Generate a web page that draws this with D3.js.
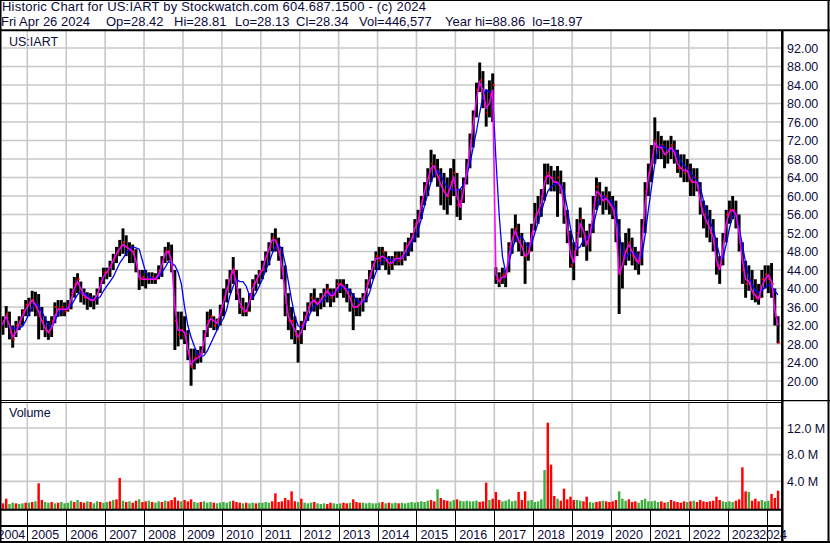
<!DOCTYPE html>
<html><head><meta charset="utf-8">
<script src="https://cdn.jsdelivr.net/npm/d3@7"></script>
<style>
body{margin:0;background:#fff}
svg{display:block}
text{font-family:Arial,"Liberation Sans",sans-serif;fill:#0b0b3b;white-space:pre}
</style>
</head><body>
<svg id="c" width="830" height="543"></svg>
<script>
// ---------- DATA (monthly, Apr 2004 .. Apr 2024) ----------
const startYear = 2004, startMonth = 4;
const high = [
 33.5,34,36.2,35,32,33,34,35.5,37.5,
 38,39.5,39.3,38.8,36,34,33,34,37,37.5,37.5,37,
 37.5,40,42.5,43.3,41.5,40,39.2,39,38.5,40,42.5,44.5,
 44.5,46,47.5,49,50.5,53,51.5,50,49.5,48.5,44,44,
 44,43.5,43.5,43.3,45,47,49,50,49.5,44,35,35,
 34,31,27,27,26.7,27.5,31,35,35.5,34,33.5,36.5,
 40,42,44,46.8,44,40,38,37,39,42,43,44,
 46,48,50,52,53,51,49,45,39,36,34,31,
 33,35,37,39,40,38,39,40,41,40,40,42,
 42,42,41,40,39,38,38,39,42,44,46,48,
 49,49,48,47,47,48,48,48,50,51,52,55,
 57,60,63,66,70,69,68,66,65,64,66,68,
 65,61.5,64,68,73.5,78.5,84.5,88.86,87,83,85,86.5,
 44.6,43.5,44.5,44,50,53,56,54,52,50,50,54,
 58.5,60,61.5,67,67,66.5,65.5,66.5,65.5,63,57,52.5,
 50,55,57.5,55,52.5,54,60,64,63,61,62,61,
 60,59,55,50,52,53,51,49,48,55,63,67,
 71,77,74,73,72,72,73,72,70,69,69,68,
 67,66,66,63,59,58,57,55,51,47,52,57,
 59,60,59,56,50,46,45,44,42,41,44,45,
 45,45.5,40,34];
const low = [
 29.5,30,31.5,29,27.2,29.5,31,32,34,
 34,35,34,29,31,29.5,28.9,29.5,32.5,33.9,34,34,
 35,35.5,38,39,37,36.5,35.4,36,35.5,36.5,39,41,
 42,42.5,44,45.5,47,47.5,47,45.5,45.5,43.5,39.7,40.5,
 40,41,41,41,42,42.5,45.5,46,43.5,26.7,27.5,29,
 28,24.5,18.97,22.5,23.8,24,26,29.5,31.5,31,31,32,
 34,37,39,41,37.5,34.5,34,34,35,37.5,39.5,41,
 42,43.5,45,48,48,46,42,34,31,29,28,24,
 28,31,33,35,35,34,35.5,36,37,36,37,38,
 39,38,37,35,31,34,34,35,37,40,42,44,
 44,45,44,43,44,45,45,45,46,47,48,50,
 51,55,58,60,63,64,62,58,57,56,58,60,
 55.5,54.8,58.5,62.5,66,70.5,77,82.5,79,75,77,76,
 41,40.3,41,40.3,43.5,47.5,50,48,47,41,46,48,
 52.5,54,55.5,59,62.5,61,61,55.5,60.5,54,49.8,44.5,
 41.8,47,51,49,46,48,52,57,58,56,57,56,
 55,50,34.5,40,45,46,45,44,43,45,52,60,
 63,67,68,68,66,67,68,67,65,64,63,63,
 60,60,61,56,53,51,50,48,43,41,45,50,
 54,55,53,48,41,38,39.5,37.5,37,36.5,38,40,
 39,38,32,28.13];
const close = [
 31.5,33,34.5,30.5,29,32,33,35,36.5,
 37,37.5,36,34,33,31,30.5,33,36,35.5,36,35,
 36,39,41,42,39,38,38,37.5,37.5,39,41.5,43.5,
 43.5,45,46.5,48,49,50,49,48.5,48,45,42,42.5,
 42,42,42.5,42,44,46,48,48,45,33,30,31,
 30,26,23,25,25.5,26,30,33,34,32,33,35.5,
 38,40,43,44,39,36,35,35,38,41,42,43.5,
 44,47,49,51,50,48,44,37,33,33,30,29,
 32,34,36,38,37,37,38,39,40,38,39,41,
 41,40,39,38,36,36,37,38,41,43,45,47,
 46,48,46,45,46,47,46,47,49,50,51,54,
 55,59,62,64,67,66,64,62,61,60,63,65,
 58,59,63,66,72,77,83,85,81,78,82,84,
 42,41.5,43,43.5,49,51,53,50,49,47,48,52,
 56,57,60,64,65,64,63,64,62,56,52,45,
 48,52,55,51,50,53,58,62,60,59,60,58,
 57,52,44,47,48,50,47,46,46,53,61,65,
 67,72,70,71,69,70,71,69,66,66,65,66,
 63,64,62,58,56,54,52,50,45,45,50,56,
 57,57,56,50,44,41,42,39,38,38,42,43,
 42,41,34,28.34];
const maFast = [
 31.5,32.5,34,32,29.5,30.5,32.5,34,35.5,
 36.5,37.5,36.5,35,33,31.5,30.5,31.5,34,35.5,35.5,35.5,
 35.5,37.5,40,41.5,40,38.5,38,37.5,37.5,38.5,40.5,42.5,
 43.5,44.5,46,47.5,48.5,49.5,49,48.5,48,46,42.5,42,
 42,42,42,42,43,45,47.5,48,46,36,31,31,
 30.5,27,23.5,24.5,25,25.5,28.5,32,33.5,33,32.5,34.5,
 37,39.5,42,44,41,37,35.5,35,37,40,41.5,43,
 44,46.5,48.5,50.5,50.5,48.5,45,39,34,32.5,31,29.5,
 30.5,33,35,37,37.5,36.5,37.5,38.5,39.5,38.5,38.5,40,
 41,40.5,39.5,38,36,36,36.5,37.5,39.5,42,44.5,46.5,
 46.5,47,46.5,45.5,45.5,46.5,46.5,46.5,48,49.5,50.5,53,
 54.5,58,61,63.5,66,66.5,64.5,62.5,61,60,62,64,
 60,57.5,61,65,70,75.5,81,84.5,83,79,80,83,
 43,41.5,42.5,42.5,47,50.5,52.5,50.5,49,47,47.5,51,
 55,56.5,58.5,63,64.5,64,63,63,62,58,53,47.5,
 45.5,50,54,52.5,49.5,51.5,56,61,60.5,59,59.5,58.5,
 57.5,54,43,45,48,49.5,48,46.5,45.5,50,58,64,
 67,71.5,70.5,70.5,69,69.5,70.5,69.5,67,66,65.5,65.5,
 63.5,63,63,59,56,54.5,53,51,46,44,48.5,54,
 56.5,57,56,52,46,42,41.5,39.5,38.5,37.8,40.5,42,
 42.9,41.5,35.4,32];
const maSlow = [
 null,null,null,31.7,31.5,31.3,31.5,31.8,33,
 34.5,36,36.8,36.3,35,33.5,32,31.5,33,34.5,35.2,35.5,
 35.8,36.3,37.5,38.7,39.2,39,38.5,38,37.5,37.8,38.2,39.5,
 40.5,41.5,42.5,44,45.5,46.5,47.6,48.5,49,48.8,48.5,46,
 43.5,42.5,42.2,42.2,42.5,43.5,44.5,45.8,45.5,45,43.5,41,
 36,32,29.5,27.5,26,25.3,25.5,26.5,28,29.5,31,32.5,
 33.5,35.5,38.5,40.5,42,41.5,41.5,40.5,38.5,38,39,40.5,
 42,44,45.5,47.5,49,49.5,48.5,45.5,41.5,37.5,34,32,
 31.5,32,33.5,35,36.2,36.8,37,37.5,38.5,39,39,39.5,
 40,40.5,40,39.5,38.5,37.5,37,37,37.5,39,41.5,43.5,
 45,46,46.5,46.5,46,46,46.5,46.5,47,48,49.5,51,
 52.5,55,58,60.5,63,65,65.5,64.5,63,62,61.5,61.2,
 61.2,61.5,62.5,64.5,67,70.5,74,78,81.5,83,82.5,82,
 68,56,47,43.5,45.5,48.5,50.5,51,51.2,50,49,49.5,
 52,54.2,56.5,59,61,62,62.5,62.8,62.5,61,57.5,53,
 50,48.5,49,50.5,51,51.5,53.5,56.5,59,60,59.5,59,
 58.5,57,52,47.5,46.5,47.5,48,47.5,46.5,47,51.5,57,
 62,67,70,71,70.5,70,70,70,69,67.5,66.5,66,
 65,64,63.5,62,59,56.5,54.5,53,50,47,46.5,49.5,
 53,55.5,56.5,53,49.5,45.5,42.5,41,39.5,39.2,39.5,40.2,
 40.8,40.5,39.5,38.6];
const volume = [ // millions of shares
 0.8,0.7,1.4,0.6,0.8,0.7,0.6,0.7,0.8,
 0.8,0.9,1.0,3.7,1.2,0.9,0.8,0.9,0.7,0.8,0.9,0.7,
 0.8,1.1,0.9,1.2,0.9,0.8,1.0,0.9,0.7,1.0,0.9,0.8,
 0.9,1.0,1.2,1.3,4.5,1.1,0.9,1.0,0.8,1.1,1.3,0.9,
 1.0,1.1,0.9,0.8,1.0,0.9,1.1,1.0,1.2,1.6,1.1,1.0,
 1.2,1.0,1.3,0.9,0.8,0.9,1.0,0.8,0.9,0.8,0.7,0.8,
 0.9,0.8,1.0,1.1,0.9,0.8,0.7,0.8,0.7,0.8,0.7,0.8,
 0.8,0.9,0.8,1.0,2.2,0.9,1.0,1.5,1.2,2.5,1.0,0.9,
 1.4,0.8,0.7,0.8,0.9,0.7,0.6,0.7,0.6,0.8,0.7,0.6,
 0.7,0.8,0.7,0.8,1.3,0.9,0.8,0.8,0.7,0.8,0.7,0.7,
 0.8,0.9,0.7,0.8,0.7,0.8,0.7,0.8,0.7,0.8,0.9,0.8,
 0.9,1.0,0.9,1.1,1.2,1.0,2.8,1.5,1.2,1.1,1.0,1.2,
 1.3,1.1,1.0,1.1,1.0,1.0,1.1,0.9,1.0,3.8,1.2,1.4,
 2.4,1.2,1.0,1.1,1.3,1.0,1.1,2.4,1.2,2.5,1.1,1.2,
 0.9,1.0,1.3,5.7,12.8,6.5,1.8,1.4,1.1,2.9,1.3,1.7,
 1.2,1.2,1.1,1.0,1.7,0.9,0.8,0.9,1.0,1.1,1.0,0.9,
 1.0,1.2,2.5,1.4,1.1,1.3,0.9,1.0,0.8,1.2,1.4,1.0,
 1.0,1.1,0.9,1.0,0.8,0.9,1.2,1.0,0.9,0.8,1.0,0.9,
 1.0,1.1,0.9,1.2,1.0,0.9,1.0,1.1,1.7,1.2,1.0,0.9,
 1.0,0.9,1.1,1.3,6.1,2.5,2.4,1.1,1.4,1.0,1.2,1.0,
 1.1,2.1,1.5,2.6];
const volSide = ( // r = down volume, g = up volume
 "grrggrggr"+"grgrrggrgrgg"+"ggrgrrgrggrg"+"grgrrgrgrrgr"+"rgrggrgrrrrg"+
 "rrrggrgggrgg"+"gggrrrgrggrg"+"gggrrrrrrrrg"+"rgggrgggrrgg"+"grrgrrrggggg"+
 "grgrggrggggg"+"ggggrrgrrrgg"+"rggggggrrrgr"+"rrgggggrrrgg"+"ggggrrrgrrrr"+
 "rggrrggrrgrr"+"rrgggrrrgggg"+"gggrrgrrrrrg"+"rgrrrrrrrrgg"+"ggrrrrgrrrgg"+"grrr");
const priceTicks = [20,24,28,32,36,40,44,48,52,56,60,64,68,72,76,80,84,88,92];
const volTicks = [4,8,12];
const yearLabels = [2004,2005,2006,2007,2008,2009,2010,2011,2012,2013,2014,2015,2016,2017,2018,2019,2020,2021,2022,2023,2024];
const header1 = "Historic Chart for US:IART by Stockwatch.com 604.687.1500 - (c) 2024";
const header2 = ["Fri Apr 26 2024","Op=28.42","Hi=28.81","Lo=28.13","Cl=28.34","Vol=446,577","Year hi=88.86  lo=18.97"];
const symbol = "US:IART";

// ---------- LAYOUT ----------
const header2X = [1,106,174,235,296,359,445];
const svg = d3.select("#c");
const PX0 = 1.5, PX1 = 781, PTOP = 31, PBOT = 400, VTOP = 403, VBOT = 509;
const x = d3.scaleLinear().domain([2005, 2024]).range([27.3, 766.7]);
const yP = d3.scaleLinear().domain([20, 92]).range([381, 48]);
const yV = d3.scaleLinear().domain([0, 12]).range([508, 428]);
const monthT = i => startYear + (startMonth - 1 + i) / 12;
const monthW = (x(2006) - x(2005)) / 12;
const N = high.length;
const idx = d3.range(N);
const grid = "#c8c8c8";
const FONT = "Arial,'Liberation Sans',sans-serif";

svg.append("rect").attr("width", 830).attr("height", 543).attr("fill", "#fff");

const defs = svg.append("defs");
defs.append("clipPath").attr("id", "cp").append("rect")
  .attr("x", PX0).attr("y", PTOP).attr("width", PX1 - PX0).attr("height", PBOT - PTOP);
defs.append("clipPath").attr("id", "cv").append("rect")
  .attr("x", PX0).attr("y", VTOP).attr("width", PX1 - PX0).attr("height", VBOT - VTOP);

// gridlines
const gYears = yearLabels.filter(y => x(y) > PX0 && x(y) < PX1);
const g = svg.append("g").attr("stroke", grid).attr("stroke-width", 1.6);
g.selectAll(".hp").data(priceTicks).join("line")
  .attr("x1", PX0).attr("x2", PX1).attr("y1", d => yP(d)).attr("y2", d => yP(d));
g.selectAll(".vp").data(gYears).join("line")
  .attr("x1", d => x(d)).attr("x2", d => x(d)).attr("y1", PTOP).attr("y2", PBOT);
g.selectAll(".hv").data(volTicks).join("line")
  .attr("x1", PX0).attr("x2", PX1).attr("y1", d => yV(d)).attr("y2", d => yV(d));
g.selectAll(".vv").data(gYears).join("line")
  .attr("x1", d => x(d)).attr("x2", d => x(d)).attr("y1", VTOP).attr("y2", VBOT);

// price bars
const pg = svg.append("g").attr("clip-path", "url(#cp)");
pg.selectAll(".bar").data(idx).join("rect")
  .attr("x", i => x(monthT(i)) + 0.15).attr("width", monthW - 0.3)
  .attr("y", i => yP(high[i])).attr("height", i => Math.max(1, yP(low[i]) - yP(high[i])))
  .attr("fill", "#000");
pg.selectAll(".cl").data(idx).join("rect")
  .attr("x", i => x(monthT(i)) + monthW - 1.6).attr("width", 2)
  .attr("y", i => yP(close[i]) - 1).attr("height", 2)
  .attr("fill", "#ff0000");
const lineOf = arr => d3.line()
  .defined(i => arr[i] != null)
  .x(i => x(monthT(i) + 1 / 24)).y(i => yP(arr[i]));
pg.append("path").datum(idx).attr("d", lineOf(maSlow))
  .attr("fill", "none").attr("stroke", "#0000ff").attr("stroke-width", 1.3);
pg.append("path").datum(idx).attr("d", lineOf(maFast))
  .attr("fill", "none").attr("stroke", "#ff00ff").attr("stroke-width", 1.5);

// volume bars
const vg = svg.append("g").attr("clip-path", "url(#cv)");
vg.selectAll(".vb").data(idx).join("rect")
  .attr("x", i => x(monthT(i)) + 0.4).attr("width", monthW - 0.8)
  .attr("y", i => yV(volume[i])).attr("height", i => yV(0) - yV(volume[i]) + 1.5)
  .attr("fill", i => volSide[i] === "g" ? "#3fae3f" : "#ff0000");

// frames
const fr = svg.append("g").attr("stroke", "#000");
const L = (x1, y1, x2, y2, w) => fr.append("line").attr("x1", x1).attr("y1", y1).attr("x2", x2).attr("y2", y2).attr("stroke-width", w);
L(0, 0.5, 830, 0.5, 1);
L(0.75, 0, 0.75, 543, 1.5);
L(828.5, 0, 828.5, 543, 2);
L(0, 542, 830, 542, 2);
L(0, 30.2, 830, 30.2, 2);
L(782.3, 30, 782.3, 543, 2.5);
L(0, 400.5, 782, 400.5, 1);
L(0, 402.5, 782, 402.5, 1);
L(782, 400.7, 830, 400.7, 1.2);
L(0, 509.8, 782, 509.8, 2);
L(0, 526, 782, 526, 2);
fr.selectAll(".yd").data(gYears).join("line")
  .attr("x1", d => Math.round(x(d)) + 0.5).attr("x2", d => Math.round(x(d)) + 0.5)
  .attr("y1", 510).attr("y2", 541).attr("stroke-width", 1);

// axes (right)
const pAxis = d3.axisRight(yP).tickValues(priceTicks).tickFormat(d3.format(".2f")).tickSize(0).tickPadding(4);
const pa = svg.append("g").attr("transform", "translate(783,0)").call(pAxis);
pa.select(".domain").remove();
pa.selectAll("text").style("font-size", "12.5px").style("font-family", FONT).attr("fill", "#0b0b3b");
const vAxis = d3.axisRight(yV).tickValues(volTicks).tickFormat(d => d3.format(".1f")(d) + " M").tickSize(0).tickPadding(4);
const va = svg.append("g").attr("transform", "translate(783,0)").call(vAxis);
va.select(".domain").remove();
va.selectAll("text").style("font-size", "12.5px").style("font-family", FONT).attr("fill", "#0b0b3b");

// year labels
svg.append("g").selectAll("text").data(yearLabels).join("text")
  .attr("x", (d, i) => i === 0 ? x(monthT(0)) - 0.6 : (i === yearLabels.length - 1 ? 787 : x(d) + 4))
  .attr("text-anchor", (d, i) => i === yearLabels.length - 1 ? "end" : "start")
  .attr("y", 539).style("font-size", "12.5px").text(d => d);

// header texts
svg.append("text").attr("x", 2).attr("y", 11.3).style("font-size", "13px")
  .attr("textLength", 424).attr("lengthAdjust", "spacing").text(header1);
svg.append("g").selectAll("text").data(header2).join("text")
  .attr("x", (d, i) => header2X[i]).attr("y", 26).style("font-size", "13px").text(d => d);
svg.append("text").attr("x", 9).attr("y", 45.5).style("font-size", "12.5px").text(symbol);
svg.append("text").attr("x", 9).attr("y", 417).style("font-size", "12.5px").text("Volume");
</script>
</body></html>
